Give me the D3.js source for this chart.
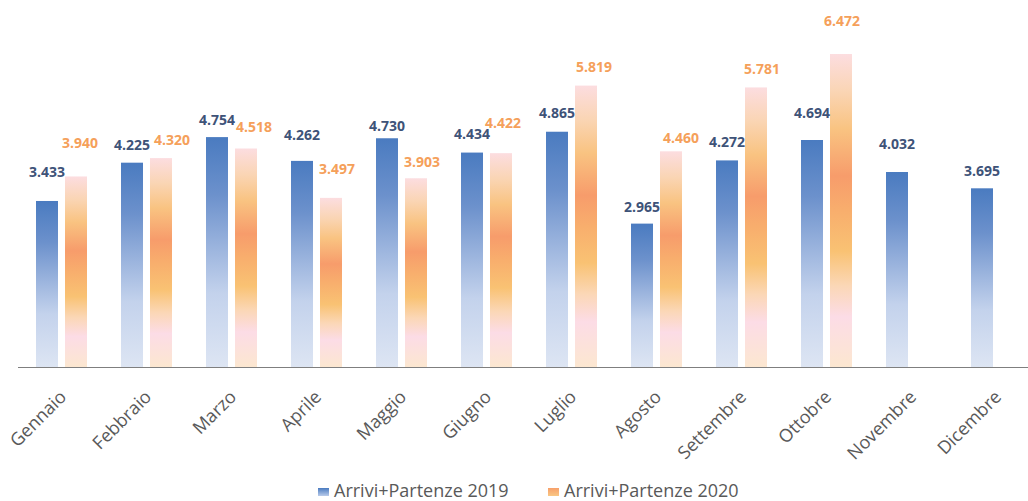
<!DOCTYPE html>
<html><head><meta charset="utf-8">
<script src="https://cdn.jsdelivr.net/npm/d3@7/dist/d3.min.js"></script>
<style>
html,body{margin:0;padding:0;background:#fff;}
svg{display:block;}
</style></head>
<body>
<svg id="chart" width="1028" height="501"></svg>
<script>
const months = ["Gennaio","Febbraio","Marzo","Aprile","Maggio","Giugno","Luglio","Agosto","Settembre","Ottobre","Novembre","Dicembre"];
const series2019 = [3433,4225,4754,4262,4730,4434,4865,2965,4272,4694,4032,3695];
const series2020 = [3940,4320,4518,3497,3903,4422,5819,4460,5781,6472,null,null];
const labels2019 = ["3.433","4.225","4.754","4.262","4.730","4.434","4.865","2.965","4.272","4.694","4.032","3.695"];
const labels2020 = ["3.940","4.320","4.518","3.497","3.903","4.422","5.819","4.460","5.781","6.472",null,null];
const seriesNames = ["Arrivi+Partenze 2019","Arrivi+Partenze 2020"];
// manual label nudges (as in the original, dragged labels)
const nudge2019dy = [-12,-1,0,-9,5,-1,-2,0,-1,-10,-11,0];
const nudge2020dx = [4,11,8,6,6,2,8,10,6,1,0,0];
const nudge2020dy = [-16,-1,-4,-12,1,-13,-1,4,-1,-16,0,0];

const svg = d3.select("#chart");
const baseY = 367;
const y = d3.scaleLinear().domain([0,7000]).range([baseY, baseY - 7000*0.04836]);
const x = d3.scaleBand().domain(months).range([19,1039]).paddingInner(0).paddingOuter(0);
const x1 = d3.scaleBand().domain([0,1]).range([17,68]).paddingInner(2-51/29).paddingOuter(0);

const defs = svg.append("defs");
function grad(id, stops){
  const g = defs.append("linearGradient").attr("id",id).attr("x1",0).attr("y1",0).attr("x2",0).attr("y2",1);
  stops.forEach(([o,c])=>g.append("stop").attr("offset",o).attr("stop-color",c));
}
grad("gBlue",[[0,"#4A7BC0"],[0.25,"#6C91CC"],[0.5,"#9FB7DF"],[0.68,"#C3D2EC"],[1,"#DDE5F3"]]);
grad("gOrange",[[0,"#FCDDE0"],[0.12,"#FAD5B4"],[0.24,"#F9C381"],[0.39,"#F79C6B"],[0.5,"#F8AE6D"],[0.63,"#F9C273"],[0.74,"#FBD7B6"],[0.84,"#FCDCE6"],[1,"#FCE7D0"]]);
grad("gBlueL",[[0,"#4A7BC0"],[1,"#B9CBEA"]]);
grad("gOrangeL",[[0,"#F7A06A"],[1,"#F9C784"]]);

const data = months.map((m,i)=>({m, vals:[series2019[i], series2020[i]]}));

const bars = svg.append("g");
data.forEach((d,i)=>{
  d.vals.forEach((v,s)=>{
    if(v==null) return;
    bars.append("rect")
      .attr("x", x(d.m)+x1(s))
      .attr("y", y(v))
      .attr("width", x1.bandwidth())
      .attr("height", y(0)-y(v))
      .attr("fill", s===0 ? "url(#gBlue)" : "url(#gOrange)");
  });
});

// axis line
svg.append("line").attr("x1",18).attr("x2",1028).attr("y1",baseY+0.5).attr("y2",baseY+0.5)
  .attr("stroke","#7F7F7F").attr("stroke-width",1.2);

// data labels
const lab = svg.append("g").attr("font-family","'Open Sans', sans-serif").attr("font-weight","bold").attr("font-size","14px").attr("text-anchor","middle");
data.forEach((d,i)=>{
  if(series2019[i]!=null){
    lab.append("text")
      .attr("x", x(d.m)+x1(0)+x1.bandwidth()/2)
      .attr("y", y(series2019[i]) - 17 + nudge2019dy[i])
      .attr("dy","0.35em")
      .attr("fill","#3E5378")
      .text(labels2019[i]);
  }
  if(series2020[i]!=null){
    lab.append("text")
      .attr("x", x(d.m)+x1(1)+x1.bandwidth()/2 + nudge2020dx[i])
      .attr("y", y(series2020[i]) - 17 + nudge2020dy[i])
      .attr("dy","0.35em")
      .attr("fill","#F5A05A")
      .text(labels2020[i]);
  }
});

// category labels
const ax = svg.append("g").attr("font-family","'Open Sans', sans-serif").attr("font-size","18px").attr("fill","#595959");
months.forEach(m=>{
  ax.append("text")
    .attr("text-anchor","end")
    .attr("transform",`translate(${x(m)+x.bandwidth()/2+6},${baseY+31}) rotate(-45)`)
    .text(m);
});

// legend
const lg = svg.append("g").attr("font-family","'Open Sans', sans-serif").attr("font-size","18px").attr("fill","#595959");
const legX = [318, 548];
seriesNames.forEach((n,i)=>{
  lg.append("rect").attr("x",legX[i]).attr("y",488).attr("width",11).attr("height",8)
    .attr("fill", i===0 ? "url(#gBlueL)" : "url(#gOrangeL)");
  lg.append("text").attr("x",legX[i]+16).attr("y",497).text(n);
});
</script>
</body></html>
